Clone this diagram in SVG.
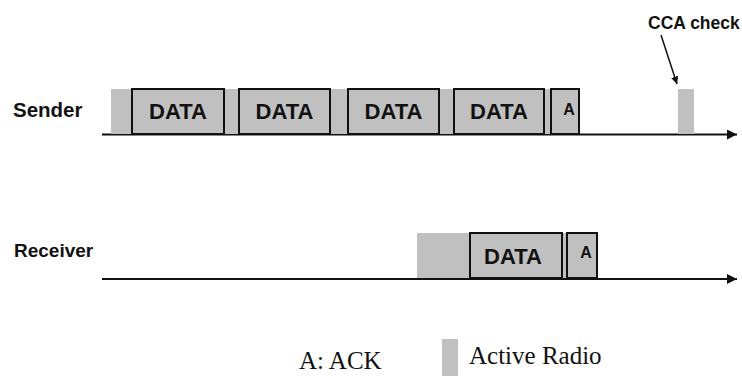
<svg xmlns="http://www.w3.org/2000/svg" width="742" height="376" viewBox="0 0 742 376">
  <defs>
    <style>
      .lbl { font-family: "Liberation Sans", Arial, sans-serif; font-weight: bold; fill: #111; }
      .pkt { fill: #c0c0c0; stroke: #111; stroke-width: 2; }
      .radio { fill: #c0c0c0; stroke: none; }
      .axis { stroke: #111; stroke-width: 2; fill: none; }
      .legend { font-family: "Liberation Serif", "Times New Roman", serif; font-size: 25px; fill: #111; }
    </style>
    <marker id="arrow" viewBox="0 0 10 10" refX="10" refY="5" markerWidth="5" markerHeight="5" orient="auto" markerUnits="strokeWidth">
      <path d="M0,0 L10,5 L0,10 z" fill="#111"/>
    </marker>
  </defs>

  <rect width="742" height="376" fill="#fff"/>

  <!-- time axes and the CCA pointer -->
  <g id="connectors">
    <line class="axis" x1="102" y1="134.5" x2="737" y2="134.5" marker-end="url(#arrow)"/>
    <line class="axis" x1="102" y1="279" x2="737" y2="279" marker-end="url(#arrow)"/>
    <line x1="661" y1="35" x2="677" y2="84" stroke="#111" stroke-width="1.5" marker-end="url(#arrow)"/>
  </g>

  <!-- sender timeline -->
  <g id="sender">
    <text class="lbl" x="13" y="117" font-size="20.5">Sender</text>
    <rect class="radio" x="111" y="89" width="440" height="45"/>
    <rect class="pkt" x="132" y="89" width="92" height="45"/>
    <text class="lbl" x="178" y="119" font-size="22" text-anchor="middle">DATA</text>
    <rect class="pkt" x="239" y="89" width="91" height="45"/>
    <text class="lbl" x="284.5" y="119" font-size="22" text-anchor="middle">DATA</text>
    <rect class="pkt" x="348" y="89" width="91" height="45"/>
    <text class="lbl" x="393.5" y="119" font-size="22" text-anchor="middle">DATA</text>
    <rect class="pkt" x="454" y="89" width="90" height="45"/>
    <text class="lbl" x="499" y="119" font-size="22" text-anchor="middle">DATA</text>
    <rect class="pkt" x="551" y="89" width="28" height="45"/>
    <text class="lbl" x="569" y="115" font-size="16" text-anchor="middle">A</text>
  </g>

  <!-- clear channel assessment -->
  <g id="cca">
    <text class="lbl" x="648" y="29" font-size="17.5">CCA check</text>
    <rect class="radio" x="678" y="89" width="16" height="45" stroke="#fff" stroke-width="1.5"/>
  </g>

  <!-- receiver timeline -->
  <g id="receiver">
    <text class="lbl" x="14" y="257" font-size="19">Receiver</text>
    <rect class="radio" x="417" y="233" width="150" height="45"/>
    <rect class="pkt" x="470" y="233" width="92" height="45"/>
    <text class="lbl" x="513" y="264" font-size="22" text-anchor="middle">DATA</text>
    <rect class="pkt" x="567" y="233" width="30" height="45"/>
    <text class="lbl" x="586" y="258" font-size="16" text-anchor="middle">A</text>
  </g>

  <!-- legend -->
  <g id="legend">
    <text class="legend" x="299" y="369">A: ACK</text>
    <rect class="radio" x="442" y="339" width="16" height="37"/>
    <text class="legend" x="469" y="364">Active Radio</text>
  </g>
</svg>
